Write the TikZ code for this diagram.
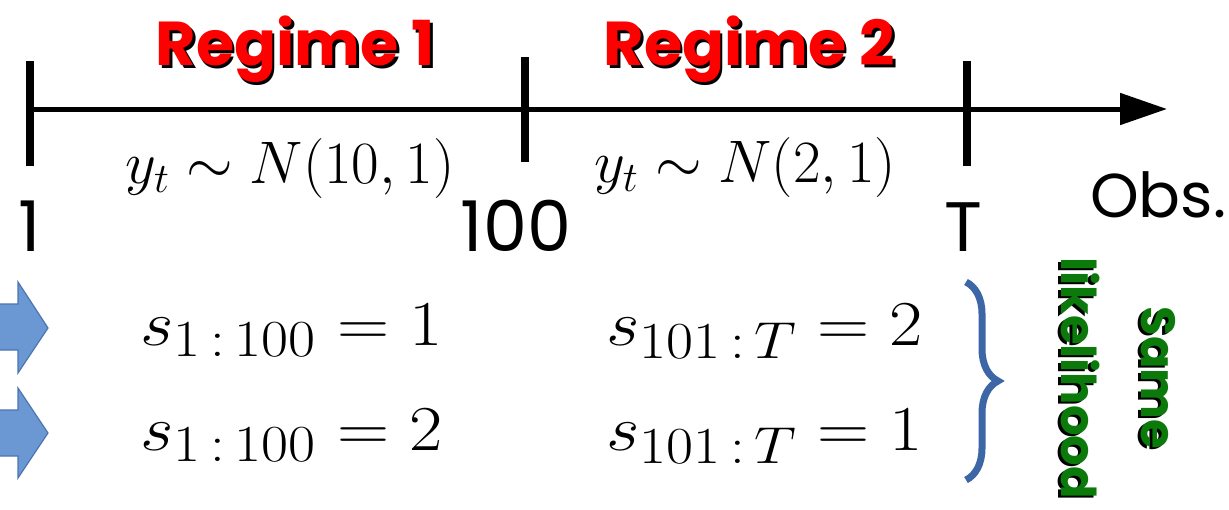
\RequirePackage{fix-cm}
\documentclass[tikz,border=0pt]{standalone}
\usepackage{amsmath}
\usepackage{fontspec}
\newfontfamily\comic{Poppins}
\usepackage{tikz}
\usetikzlibrary{arrows.meta,decorations.pathreplacing}
\definecolor{regred}{HTML}{FF0000}
\definecolor{likegreen}{HTML}{0B7A0B}
\definecolor{arrowblue}{HTML}{6B97D3}
\definecolor{arrowedge}{HTML}{4A75B2}
\definecolor{braceblue}{HTML}{3C66A6}
% large subscripts, as in the slide
\newcommand{\bigsub}[1]{\mbox{\fontsize{26}{31}\selectfont$#1$}}

\begin{document}
\begin{tikzpicture}[x=0.5pt,y=-0.5pt,
  regime/.style={font={\comic\bfseries\fontsize{31}{38}\selectfont},inner sep=0pt,anchor=base},
  ticklbl/.style={font={\comic\fontsize{35}{42}\selectfont},inner sep=0pt,anchor=base},
  distlbl/.style={font={\fontsize{30}{36}\selectfont},inner sep=0pt,anchor=base},
  statelbl/.style={font={\fontsize{32}{38}\selectfont},inner sep=0pt,anchor=base west,xscale=1.13,transform shape},
  samelbl/.style={font={\comic\bfseries\fontsize{24}{40}\selectfont},inner sep=0pt,align=center,rotate=-90},
  tickmark/.style={line width=4pt},
  blockarrow/.style={fill=arrowblue,draw=arrowedge,line width=0.6pt}]
  \useasboundingbox (0,0) rectangle (1229,509);
  % time axis
  \coordinate (axstart) at (30,109);
  \coordinate (axend) at (1167,109);
  \draw[line width=2.5pt,-{Triangle[length=23.5pt,width=15.5pt]}] (axstart) -- (axend);
  \draw[tickmark] (30,61) -- (30,166);
  \draw[tickmark] (525,57) -- (525,162);
  \draw[tickmark] (967,61) -- (967,166);
  \node[ticklbl] (tone) at (30,251) {1};
  \node[ticklbl] (thund) at (516,251) {100};
  \node[ticklbl] (tend) at (963,251) {T};
  \node[ticklbl,font={\comic\fontsize{31}{38}\selectfont}] (obs) at (1158,217) {Obs.};
  % regimes
  \node[regime,black] (rgAs) at (298,68) {Regime 1};
  \node[regime,regred] (rgA) at (295.5,65) {Regime 1};
  \node[regime,black] (rgBs) at (752,68) {Regime 2};
  \node[regime,regred] (rgB) at (749.5,65) {Regime 2};
  \node[distlbl] (distA) at (290,183) {$y_t\sim N(10,1)$};
  \node[distlbl] (distB) at (745,182) {$y_t\sim N(2,1)$};
  % state paths
  \fill[blockarrow] (-3,304) -- (18,304) -- (18,282) -- (48,328) -- (18,373) -- (18,350) -- (-3,350) -- cycle;
  \fill[blockarrow] (-3,410) -- (18,410) -- (18,388) -- (48,433) -- (18,478) -- (18,456) -- (-3,456) -- cycle;
  \node[statelbl] (sA1) at (140,345) {$s_{\bigsub{1\,{:}\,100}}=1$};
  \node[statelbl] (sA2) at (140,450) {$s_{\bigsub{1\,{:}\,100}}=2$};
  \node[statelbl] (sB1) at (606,345) {$s_{\bigsub{101\,{:}\,T}}=2$};
  \node[statelbl] (sB2) at (606,450) {$s_{\bigsub{101\,{:}\,T}}=1$};
  \draw[braceblue,line width=3.5pt,decorate,decoration={brace,amplitude=16pt}] (966,282) -- (966,480);
  \node[samelbl,black] (sames) at (1115,380) {Same\\likelihood};
  \node[samelbl,likegreen] (same) at (1118,378) {Same\\likelihood};
\end{tikzpicture}
\end{document}
